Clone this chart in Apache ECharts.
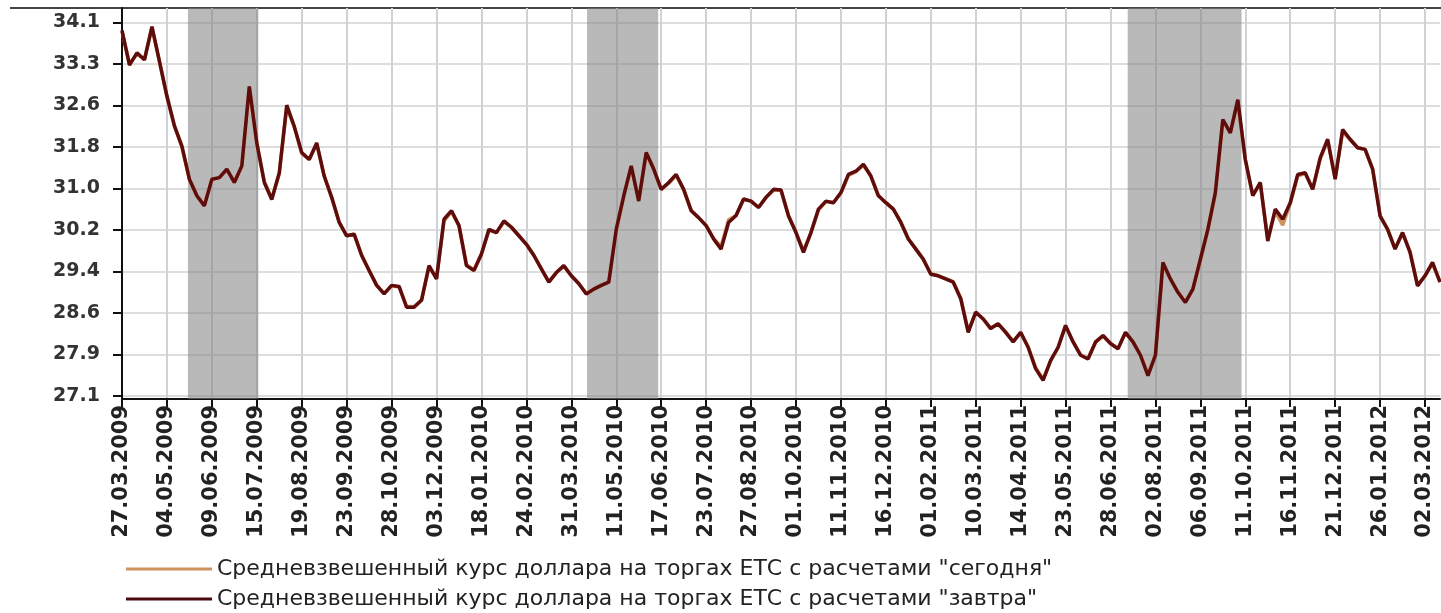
<!DOCTYPE html>
<html>
<head>
<meta charset="utf-8">
<script src="https://cdn.jsdelivr.net/npm/echarts@6/dist/echarts.min.js"></script>
<style>
html,body{margin:0;padding:0;background:#fff;}
#chart{width:1441px;height:613px;}
</style>
</head>
<body>
<div id="chart"></div>
<script>
// Tick labels on the date axis (one every 6 plotted points)
const tickDates = ['27.03.2009','04.05.2009','09.06.2009','15.07.2009','19.08.2009','23.09.2009','28.10.2009','03.12.2009','18.01.2010','24.02.2010','31.03.2010','11.05.2010','17.06.2010','23.07.2010','27.08.2010','01.10.2010','11.11.2010','16.12.2010','01.02.2011','10.03.2011','14.04.2011','23.05.2011','28.06.2011','02.08.2011','06.09.2011','11.10.2011','16.11.2011','21.12.2011','26.01.2012','02.03.2012'];

// Value axis tick labels
const yTickLabels = ['27.1','27.9','28.6','29.4','30.2','31.0','31.8','32.6','33.3','34.1'];

// Weighted average USD rate, settlement "tomorrow" (dark line)
const rateTomorrow = [
33.95,33.30,33.53,33.40,34.02,33.37,32.72,32.16,31.78,31.16,30.85,30.66,
31.16,31.19,31.35,31.10,31.41,32.90,31.84,31.10,30.78,31.28,32.55,32.15,
31.66,31.53,31.84,31.22,30.82,30.35,30.10,30.13,29.73,29.45,29.17,29.01,
29.17,29.15,28.76,28.76,28.89,29.54,29.29,30.41,30.57,30.29,29.54,29.45,
29.76,30.22,30.16,30.38,30.26,30.10,29.94,29.73,29.48,29.23,29.41,29.54,
29.35,29.20,29.01,29.10,29.17,29.23,30.22,30.85,31.41,30.75,31.66,31.35,
30.97,31.10,31.25,30.97,30.57,30.44,30.29,30.04,29.85,30.35,30.48,30.79,
30.75,30.63,30.82,30.97,30.96,30.47,30.16,29.79,30.16,30.60,30.75,30.72,
30.91,31.25,31.31,31.44,31.22,30.85,30.72,30.60,30.35,30.04,29.85,29.66,
29.38,29.35,29.29,29.23,28.92,28.29,28.67,28.54,28.36,28.45,28.29,28.11,
28.29,28.01,27.61,27.39,27.76,28.01,28.42,28.11,27.86,27.79,28.11,28.23,
28.08,27.98,28.29,28.11,27.86,27.48,27.86,29.60,29.29,29.04,28.85,29.10,
29.66,30.22,30.91,32.28,32.03,32.65,31.53,30.85,31.10,30.00,30.60,30.41,
30.72,31.25,31.28,30.97,31.56,31.91,31.16,32.09,31.91,31.75,31.72,31.35,
30.47,30.22,29.85,30.16,29.79,29.16,29.35,29.60,29.23
];

// Weighted average USD rate, settlement "today" (orange line, mostly hidden)
const rateToday = [
33.93,33.32,33.51,33.40,34.00,33.37,32.70,32.16,31.76,31.16,30.85,30.68,
31.15,31.19,31.33,31.10,31.40,32.86,31.84,31.12,30.80,31.26,32.50,32.15,
31.64,31.53,31.82,31.22,30.82,30.36,30.10,30.13,29.74,29.45,29.18,29.02,
29.16,29.14,28.78,28.77,28.90,29.52,29.30,30.38,30.55,30.29,29.56,29.46,
29.76,30.20,30.16,30.36,30.26,30.10,29.94,29.74,29.48,29.24,29.41,29.53,
29.35,29.21,29.02,29.10,29.17,29.24,30.20,30.83,31.38,30.78,31.64,31.35,
30.97,31.08,31.23,30.97,30.58,30.44,30.29,30.05,29.90,30.40,30.48,30.78,
30.75,30.63,30.82,30.95,30.96,30.48,30.17,29.82,30.16,30.58,30.74,30.72,
30.90,31.23,31.30,31.42,31.22,30.86,30.72,30.60,30.36,30.05,29.86,29.66,
29.39,29.35,29.29,29.24,28.93,28.32,28.66,28.54,28.37,28.45,28.30,28.12,
28.28,28.02,27.63,27.41,27.76,28.00,28.40,28.12,27.87,27.80,28.10,28.22,
28.08,27.99,28.28,28.11,27.87,27.50,27.88,29.55,29.29,29.05,28.86,29.10,
29.64,30.20,30.88,32.25,32.03,32.60,31.53,30.86,31.08,30.05,30.55,30.30,
30.70,31.22,31.27,30.97,31.54,31.88,31.18,32.05,31.90,31.75,31.72,31.36,
30.48,30.23,29.86,30.15,29.80,29.18,29.35,29.58,29.24
];

// Shaded periods, in plotted-point positions along the date axis
const shadedPeriods = [[8.8, 18.2], [62.1, 71.6], [134.3, 149.5]];

const seriesNames = [
  'Средневзвешенный курс доллара на торгах ЕТС с расчетами "сегодня"',
  'Средневзвешенный курс доллара на торгах ЕТС с расчетами "завтра"'
];

const PER_TICK = 6;
const categories = rateTomorrow.map((_, i) => (i % PER_TICK === 0 && tickDates[i / PER_TICK]) ? tickDates[i / PER_TICK] : String(i));
const Y_MIN_LABEL = 27.1, Y_MAX_LABEL = 34.1;
const yTickValues = yTickLabels.map((_, k) => Y_MIN_LABEL + k * (Y_MAX_LABEL - Y_MIN_LABEL) / (yTickLabels.length - 1));

const chart = echarts.init(document.getElementById('chart'), null, {renderer: 'canvas'});

const legendBase = {
  left: 126,
  itemWidth: 86,
  itemHeight: 3,
  icon: 'rect',
  padding: 0,
  textStyle: {fontFamily: 'DejaVu Sans', fontSize: 22, color: '#222'}
};

const option = {
  animation: false,
  backgroundColor: '#ffffff',
  grid: {left: 122, right: 1, top: 8, bottom: 214, containLabel: false},
  legend: [
    Object.assign({}, legendBase, {top: 558, data: [seriesNames[0]]}),
    Object.assign({}, legendBase, {top: 588, data: [seriesNames[1]]})
  ],
  xAxis: [{
    type: 'category',
    data: categories,
    boundaryGap: false,
    axisLine: {show: true, lineStyle: {color: '#111', width: 2}},
    axisTick: {show: true, interval: PER_TICK - 1, length: 8, lineStyle: {color: '#111', width: 2}},
    axisLabel: {
      interval: PER_TICK - 1, rotate: 90, margin: 6,
      fontFamily: 'DejaVu Sans', fontWeight: 'bold', fontSize: 21, color: '#222'
    },
    splitLine: {show: true, interval: PER_TICK - 1, lineStyle: {color: '#cfd2d6', width: 2}}
  }, {
    type: 'value', min: 0, max: rateTomorrow.length - 1, show: false
  }],
  yAxis: {
    type: 'value',
    min: 27.04,
    max: 34.37,
    axisLine: {show: true, lineStyle: {color: '#111', width: 2}},
    axisTick: {show: true, length: 9, customValues: yTickValues, lineStyle: {color: '#111', width: 2}},
    axisLabel: {
      customValues: yTickValues,
      margin: 22,
      fontFamily: 'DejaVu Sans', fontWeight: 'bold', fontSize: 19, color: '#333',
      formatter: function (v) {
        const k = Math.round((v - Y_MIN_LABEL) * (yTickLabels.length - 1) / (Y_MAX_LABEL - Y_MIN_LABEL));
        return yTickLabels[k] !== undefined ? yTickLabels[k] : '';
      }
    },
    splitLine: {show: true, lineStyle: {color: '#d2d2d2', width: 1.5}}
  },
  graphic: [{
    type: 'line',
    shape: {x1: 10, y1: 8, x2: 1441, y2: 8},
    style: {stroke: '#444', lineWidth: 2},
    silent: true
  }],
  series: [
    {
      name: 'bands',
      type: 'line',
      xAxisIndex: 1,
      yAxisIndex: 0,
      data: [],
      silent: true,
      z: 1,
      markArea: {
        silent: true,
        itemStyle: {color: 'rgba(128,128,128,0.55)'},
        data: shadedPeriods.map(p => [{xAxis: p[0]}, {xAxis: p[1]}])
      }
    },
    {
      name: seriesNames[0],
      type: 'line',
      data: rateToday,
      symbol: 'none',
      color: '#d0925f',
      lineStyle: {color: '#d0925f', width: 3.5},
      z: 3
    },
    {
      name: seriesNames[1],
      type: 'line',
      data: rateTomorrow,
      symbol: 'none',
      color: '#4a0a10',
      lineStyle: {color: '#5e0c0c', width: 3.5},
      z: 4
    }
  ]
};

chart.setOption(option);
</script>
</body>
</html>
